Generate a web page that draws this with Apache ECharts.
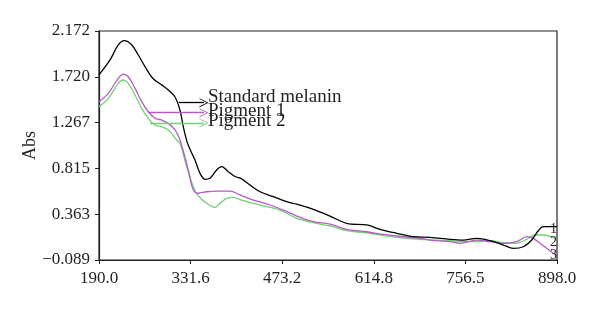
<!DOCTYPE html>
<html>
<head>
<meta charset="utf-8">
<script src="https://cdn.jsdelivr.net/npm/echarts@6/dist/echarts.min.js"></script>
<style>html,body{margin:0;padding:0;background:#fff}#c{width:600px;height:312px}</style>
</head>
<body>
<div id="c"></div>
<script>
// Wavelength (nm) and absorbance
const blackNm = [190, 207, 219.8, 229.1, 240.6, 250.8, 261.1, 273.9, 286.9, 297.1, 307.5, 315.2, 320.3, 326, 331, 338.4, 346.1, 353.9, 361.6, 371.9, 379.7, 389.9, 400.2, 410.6, 423.4, 438.9, 459.5, 480.2, 495.6, 521.3, 547.1, 572.9, 603.8, 624.4, 650.2, 675.9, 701.7, 732.6, 753.2, 773.9, 794.5, 815, 830.5, 846, 858.9, 869.1, 876.9, 898];
const blackAbs = [1.738, 1.886, 2.034, 2.076, 2.034, 1.935, 1.82, 1.70, 1.64, 1.59, 1.52, 1.39, 1.227, 1.08, 1.0, 0.898, 0.767, 0.708, 0.718, 0.80, 0.832, 0.783, 0.735, 0.712, 0.651, 0.585, 0.536, 0.487, 0.462, 0.41, 0.345, 0.273, 0.257, 0.214, 0.175, 0.141, 0.135, 0.115, 0.108, 0.125, 0.102, 0.059, 0.026, 0.042, 0.108, 0.2, 0.24, 0.24];

const pig1Nm = [190, 204.4, 219.8, 227.6, 235.3, 245.7, 256, 266.2, 276.6, 286.9, 297.1, 307.5, 315.2, 328, 335.8, 343.5, 356.5, 371.9, 392.5, 408, 428.5, 454.4, 476, 495.6, 521.3, 547.1, 572.9, 603.8, 624.4, 650.2, 686.2, 701.7, 732.6, 748, 773.9, 794.5, 815, 835.7, 851.2, 861.4, 871.7, 882.1, 892.3, 898];
const pig1Abs = [1.474, 1.556, 1.705, 1.747, 1.72, 1.606, 1.474, 1.375, 1.31, 1.293, 1.26, 1.195, 1.096, 0.80, 0.602, 0.57, 0.585, 0.592, 0.592, 0.553, 0.503, 0.454, 0.40, 0.345, 0.289, 0.266, 0.214, 0.19, 0.168, 0.148, 0.125, 0.108, 0.092, 0.076, 0.108, 0.092, 0.076, 0.092, 0.141, 0.125, 0.076, 0.026, -0.023, -0.04];

const pig2Nm = [190, 204.4, 219.8, 227.6, 235.3, 245.7, 256, 266.2, 276.6, 286.9, 297.1, 310.1, 315.2, 325.6, 335.8, 343.5, 356.5, 369.3, 377, 387.4, 397.6, 410.6, 428.5, 454.4, 474.5, 495.6, 521.3, 547.1, 572.9, 603.8, 624.4, 650.2, 686.2, 732.6, 753.2, 773.9, 794.5, 815, 835.7, 851.2, 864, 876.9, 892.3, 898];
const pig2Abs = [1.424, 1.507, 1.655, 1.688, 1.655, 1.54, 1.408, 1.31, 1.244, 1.227, 1.195, 1.096, 1.063, 0.832, 0.635, 0.543, 0.471, 0.43, 0.471, 0.52, 0.53, 0.503, 0.471, 0.431, 0.39, 0.323, 0.279, 0.247, 0.2, 0.18, 0.158, 0.135, 0.115, 0.102, 0.092, 0.092, 0.102, 0.082, 0.076, 0.115, 0.158, 0.158, 0.135, 0.125];

const seriesNames = ['Standard melanin', 'Pigment 1', 'Pigment 2'];
const endTags = ['1', '3', '2'];
// annotation arrows (data units): start wavelength, end wavelength, absorbance
const arrowStartNm = [313.4, 265.7, 268.8];
const arrowEndNm = [352.3, 352.3, 352.3];
const arrowAbs = [1.464, 1.365, 1.264];

const xTicks = [190, 331.6, 473.2, 614.8, 756.5, 898];
const xTickLabels = ['190.0', '331.6', '473.2', '614.8', '756.5', '898.0'];
const yTicks = [-0.089, 0.363, 0.815, 1.267, 1.720, 2.172];
const yTickLabels = ['\u22120.089', '0.363', '0.815', '1.267', '1.720', '2.172'];

const colors = ['#000000', '#b45cc4', '#74d077'];
const labelOffsets = [[0, -6], [0, -2], [0, -2]];
const endOffsets = [[-15, 3], [-15, 0], [-15, 4]];

const pairs = (xs, ys) => xs.map((x, i) => [x, ys[i]]);
const dataSets = [pairs(blackNm, blackAbs), pairs(pig1Nm, pig1Abs), pairs(pig2Nm, pig2Abs)];

const font = '"Liberation Serif", "DejaVu Serif", serif';
const arrowPath = 'path://M0,10 L5,0 L10,10 L9,10 L5,2 L1,10 Z';

const chart = echarts.init(document.getElementById('c'), null, {renderer: 'canvas'});
chart.setOption({
  animation: false,
  backgroundColor: '#fff',
  grid: {left: 99, right: 43, top: 31, bottom: 52, show: true, borderColor: '#222', borderWidth: 1.2},
  xAxis: {
    type: 'value', min: 190, max: 898,
    axisLine: {show: true, onZero: false, lineStyle: {color: '#222', width: 1.2}},
    axisTick: {show: true, length: 4, inside: false, customValues: xTicks, lineStyle: {color: '#222'}},
    axisLabel: {customValues: xTicks, margin: 10, color: '#231f20', fontFamily: font, fontSize: 17,
      formatter: v => xTickLabels[xTicks.findIndex(t => Math.abs(t - v) < 1e-6)]},
    splitLine: {show: false}
  },
  yAxis: {
    type: 'value', min: -0.089, max: 2.172,
    name: 'Abs', nameLocation: 'middle', nameGap: 60, nameMoveOverlap: false,
    nameTextStyle: {color: '#231f20', fontFamily: font, fontSize: 18},
    axisLine: {show: true, onZero: false, lineStyle: {color: '#222', width: 1.2}},
    axisTick: {show: true, length: 4, inside: false, customValues: yTicks, lineStyle: {color: '#222'}},
    axisLabel: {customValues: yTicks, margin: 9, color: '#231f20', fontFamily: font, fontSize: 17,
      formatter: v => yTickLabels[yTicks.findIndex(t => Math.abs(t - v) < 1e-6)]},
    splitLine: {show: false}
  },
  series: seriesNames.map((name, i) => ({
    name: name,
    type: 'line',
    data: dataSets[i],
    smooth: 0.35,
    showSymbol: false,
    symbol: 'none',
    z: 3 - i,
    lineStyle: {color: colors[i], width: 1.3},
    endLabel: {show: true, formatter: endTags[i], color: '#231f20', fontFamily: font, fontSize: 14, offset: endOffsets[i]},
    markLine: {
      silent: true,
      symbol: ['none', arrowPath],
      symbolSize: [9, 9],
      lineStyle: {color: colors[i], width: 1.3, type: 'solid'},
      label: {show: true, position: 'end', formatter: name, color: '#231f20', fontFamily: font, fontSize: 19, distance: 4, offset: labelOffsets[i]},
      data: [[{coord: [arrowStartNm[i], arrowAbs[i]]}, {coord: [arrowEndNm[i], arrowAbs[i]]}]]
    }
  }))
});
</script>
</body>
</html>
